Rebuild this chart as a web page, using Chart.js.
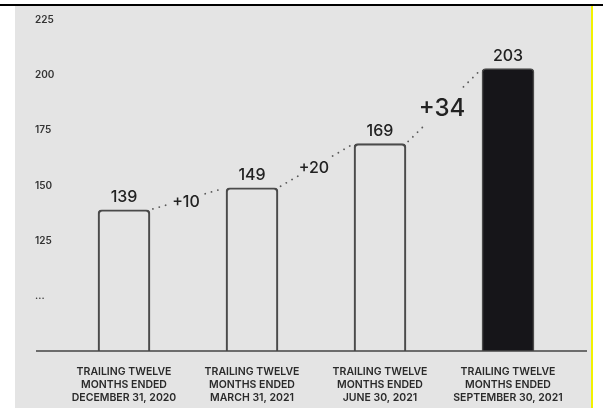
<!DOCTYPE html>
<html>
<head>
<meta charset="utf-8">
<script src="https://cdn.jsdelivr.net/npm/chart.js@4/dist/chart.umd.min.js"></script>
<style>
  html, body { margin: 0; padding: 0; background: #fff; }
  body { width: 603px; height: 409px; position: relative; overflow: hidden; }
  #topRule { position: absolute; left: 0; top: 4px; width: 603px; height: 2px; background: #000; }
  #panel { position: absolute; left: 15px; top: 6px; width: 576px; height: 402px; background: #e4e4e4; border-right: 2px solid #f2f200; }
  #chart { position: absolute; left: 0; top: 0; }
</style>
</head>
<body>
<div id="topRule"></div>
<div id="panel"><canvas id="chart" width="576" height="402"></canvas></div>
<script>
// periods on the x axis (one array per line of the tick label)
const periods = [
    ['TRAILING TWELVE', 'MONTHS ENDED', 'DECEMBER 31, 2020'],
    ['TRAILING TWELVE', 'MONTHS ENDED', 'MARCH 31, 2021'],
    ['TRAILING TWELVE', 'MONTHS ENDED', 'JUNE 30, 2021'],
    ['TRAILING TWELVE', 'MONTHS ENDED', 'SEPTEMBER 30, 2021']
];
const values = [139, 149, 169, 203];

// y axis is broken: 100 is shown as "..."
const yTickValues = [100, 125, 150, 175, 200, 225];
const yTickLabels = ['...', '125', '150', '175', '200', '225'];
const yMin = 75;
const yMax = 225;

const barFills = ['rgba(0,0,0,0)', 'rgba(0,0,0,0)', 'rgba(0,0,0,0)', '#161519'];

const baseLine = {
    id: 'baseLine',
    afterDatasetsDraw(chart){
        const ctx = chart.ctx;
        const y = chart.chartArea.bottom;
        ctx.save();
        ctx.strokeStyle = '#444';
        ctx.lineWidth = 1.5;
        ctx.beginPath();
        ctx.moveTo(21, y);
        ctx.lineTo(572, y);
        ctx.stroke();
        ctx.restore();
    }
};

const barNotes = {
    id: 'barNotes',
    afterDatasetsDraw(chart){
        const ctx = chart.ctx;
        const bars = chart.getDatasetMeta(0).data;
        ctx.save();
        ctx.fillStyle = '#222';
        ctx.textAlign = 'center';
        ctx.textBaseline = 'alphabetic';
        ctx.font = '500 16px Inter, "Liberation Sans", sans-serif';
        bars.forEach(function (bar, i){
            ctx.fillText(String(values[i]), bar.x, bar.y - 8);
        });

        // dotted connectors with the change written in the middle
        for (let i = 0; i < bars.length - 1; i++){
            const a = bars[i], b = bars[i + 1];
            const x1 = a.x + a.width / 2, y1 = a.y;
            const x2 = b.x - b.width / 2, y2 = b.y;
            const mx = (x1 + x2) / 2, my = (y1 + y2) / 2;
            const len = Math.hypot(x2 - x1, y2 - y1);
            const ux = (x2 - x1) / len, uy = (y2 - y1) / len;
            const text = '+' + (values[i + 1] - values[i]);
            const size = i === bars.length - 2 ? 24 : 16;
            ctx.font = '500 ' + size + 'px Inter, "Liberation Sans", sans-serif';
            const r = ctx.measureText(text).width / 2 + 4;

            ctx.strokeStyle = '#5a5a5a';
            ctx.lineWidth = 1.8;
            ctx.lineCap = 'round';
            ctx.setLineDash([0.1, 6.5]);
            ctx.beginPath();
            ctx.moveTo(x1 + ux * 3, y1 + uy * 3);
            ctx.lineTo(mx - ux * r, my - uy * r);
            ctx.moveTo(mx + ux * r, my + uy * r);
            ctx.lineTo(x2 - ux * 2, y2 - uy * 2);
            ctx.stroke();
            ctx.setLineDash([]);

            ctx.textBaseline = 'middle';
            ctx.fillText(text, mx - 2, my + 3);
            ctx.textBaseline = 'alphabetic';
        }
        ctx.restore();
    }
};

new Chart(document.getElementById('chart'), {
    type: 'bar',
    data: {
        labels: periods,
        datasets: [{
            data: values,
            backgroundColor: barFills,
            borderColor: '#4a4a4a',
            borderWidth: 1.5,
            borderSkipped: 'bottom',
            borderRadius: {topLeft: 4, topRight: 4},
            barThickness: 52
        }]
    },
    options: {
        responsive: false,
        devicePixelRatio: 1,
        animation: false,
        layout: {padding: {left: 20, right: 19, top: 14, bottom: 0}},
        plugins: {legend: {display: false}, tooltip: {enabled: false}},
        scales: {
            x: {
                grid: {display: false},
                border: {display: false},
                ticks: {
                    color: '#2a2a2a',
                    padding: 7,
                    maxRotation: 0,
                    autoSkip: false,
                    font: {family: 'Inter, "Liberation Sans", sans-serif', size: 10.5, weight: '600', lineHeight: 1.2}
                },
                afterFit(scale){ scale.height = 57; }
            },
            y: {
                min: yMin,
                max: yMax,
                grid: {display: false},
                border: {display: false},
                afterBuildTicks(scale){
                    scale.ticks = yTickValues.map(function (v){ return {value: v}; });
                },
                afterFit(scale){ scale.width = 25; },
                ticks: {
                    crossAlign: 'far',
                    color: '#333',
                    padding: 0,
                    font: {family: 'Inter, "Liberation Sans", sans-serif', size: 10, weight: '600'},
                    callback: function (value, index){ return yTickLabels[index]; }
                }
            }
        }
    },
    plugins: [baseLine, barNotes]
});
</script>
</body>
</html>
